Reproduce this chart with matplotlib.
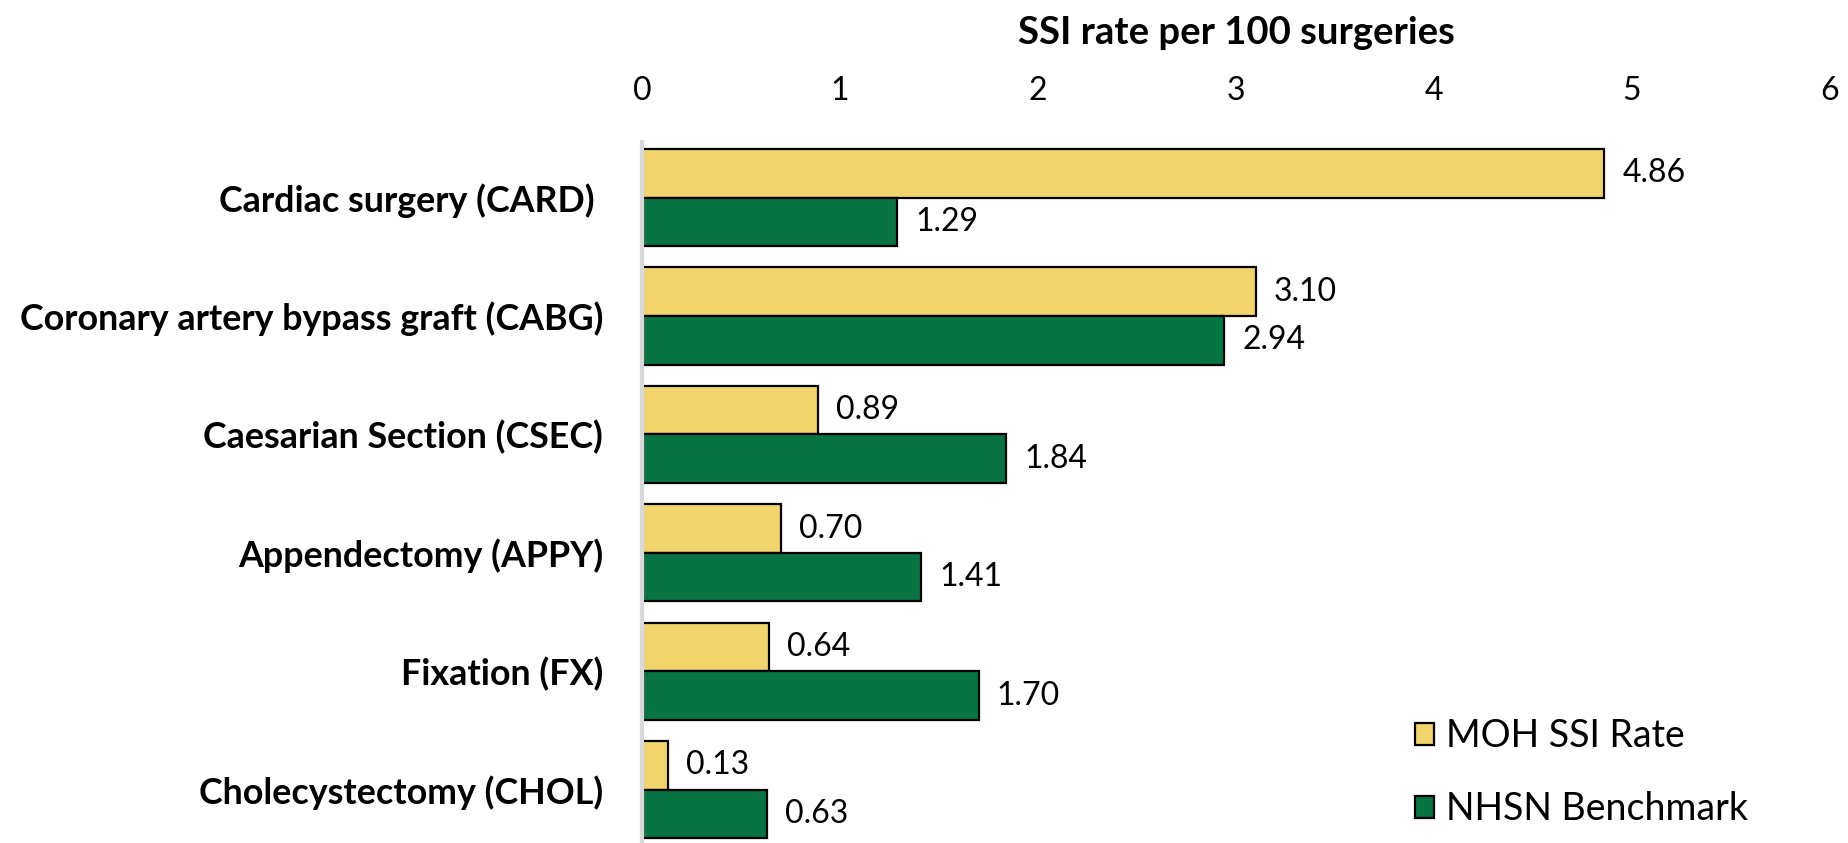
import numpy as np
import matplotlib
matplotlib.use("Agg")
import matplotlib.pyplot as plt
from matplotlib.patches import Patch

plt.rcParams['font.family'] = ['Lato', 'DejaVu Sans']

categories = ["Cardiac surgery (CARD) ", "Coronary artery bypass graft (CABG)",
              "Caesarian Section (CSEC)", "Appendectomy (APPY)",
              "Fixation (FX)", "Cholecystectomy (CHOL)"]
moh_rate = [4.86, 3.10, 0.89, 0.70, 0.64, 0.13]
nhsn_benchmark = [1.29, 2.94, 1.84, 1.41, 1.70, 0.63]
x_ticks = [0, 1, 2, 3, 4, 5, 6]

yellow = "#F2D46C"
green = "#087443"

fig = plt.figure(figsize=(18.49, 8.43), dpi=100)
ax = fig.add_axes([0.3472, 0.0, 0.6425, 0.8316])

y = np.arange(len(categories))
h = 0.41
ax.barh(y - h / 2, moh_rate, height=h, color=yellow, edgecolor="black", linewidth=1.6)
ax.barh(y + h / 2, nhsn_benchmark, height=h, color=green, edgecolor="black", linewidth=1.6)

for i in range(len(categories)):
    ax.annotate(f"{moh_rate[i]:.2f}", (moh_rate[i], y[i] - h / 2), xytext=(13, 0),
                textcoords="offset points", va="center", ha="left", fontsize=23)
    ax.annotate(f"{nhsn_benchmark[i]:.2f}", (nhsn_benchmark[i], y[i] + h / 2), xytext=(13, 0),
                textcoords="offset points", va="center", ha="left", fontsize=23)

ax.set_xlim(0, 6)
ax.set_ylim(5.45, -0.47)
ax.set_xticks(x_ticks)
ax.xaxis.tick_top()
ax.tick_params(axis="x", length=0, labelsize=23, pad=26)

fig.text(0.3472 + 0.6425 / 2, 1 - 33 / 843, "SSI rate per 100 surgeries",
         ha="center", va="center", fontsize=27.5, fontweight="bold")

ax.set_yticks(y)
ax.set_yticklabels(categories, fontsize=25.8, fontweight="bold")
ax.tick_params(axis="y", length=0, pad=28)

for s in ["top", "right", "bottom"]:
    ax.spines[s].set_visible(False)
ax.spines["left"].set_color("#D9D9D9")
ax.spines["left"].set_linewidth(3)

handles = [Patch(facecolor=yellow, edgecolor="black", linewidth=1.6, label="MOH SSI Rate"),
           Patch(facecolor=green, edgecolor="black", linewidth=1.6, label="NHSN Benchmark")]
fig.legend(handles=handles, loc="upper left", bbox_to_anchor=(1415 / 1849, 1 - 718 / 843),
           frameon=False, borderpad=0, borderaxespad=0, fontsize=27,
           handlelength=0.52, handleheight=0.52, handletextpad=0.3, labelspacing=1.0)

fig.savefig("out.png", dpi=100)
